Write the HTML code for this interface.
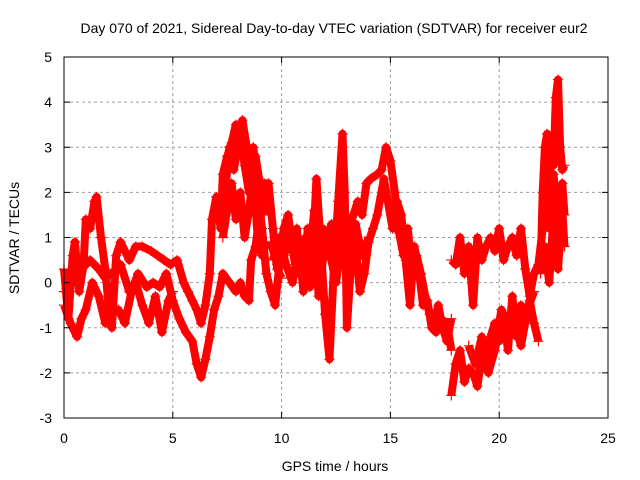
<!DOCTYPE html>
<html><head><meta charset="utf-8"><style>
body{margin:0;background:#fff;}
svg{display:block;font-family:"Liberation Sans",Arial,sans-serif;}
</style></head><body>
<svg id="chart" width="640" height="480" viewBox="0 0 640 480" xmlns="http://www.w3.org/2000/svg">
<text x="334" y="33" font-size="14" text-anchor="middle">Day 070 of 2021, Sidereal Day-to-day VTEC variation (SDTVAR) for receiver eur2</text>
<g id="grid"></g>
<g id="series"></g>
<rect x="64" y="57" width="544" height="361" fill="none" stroke="#000" stroke-width="1"/>
<g id="ticks"></g>
<text x="335" y="471" font-size="14" text-anchor="middle">GPS time / hours</text>
<text transform="translate(19,238) rotate(-90)" font-size="14" text-anchor="middle">SDTVAR / TECUs</text>
</svg>
<script>
const xTicks=[0,5,10,15,20,25];
const yTicks=[-3,-2,-1,0,1,2,3,4,5];
const track1T=[0,0.2,0.4,0.5,0.7,0.9,1.0,1.2,1.4,1.5,1.7,1.9,2.1,2.2,2.4,2.6,2.8,3.0,3.3,3.6,4.0,4.3,4.6,4.9,5.2,5.5,5.7,5.9,6.1,6.3,6.5,6.7,6.8,7.0,7.2,7.3,7.5,7.7,7.9,8.1,8.3,8.5,8.7,8.9,9.1,9.3,9.5,9.7,9.9,10.1,10.3,10.5,10.7,10.9,11.1,11.3,11.5,11.7,11.9,12.1,12.3,12.5,12.7,12.9,13.1,13.3,13.5,13.7,13.9,14.1,14.4,14.6,14.8,15.0,15.2,15.4,15.6,15.8,16.0,16.2,16.4,16.6,16.8,17.0,17.2,17.4,17.6,17.8];
const track1V=[0.3,-0.8,0.6,0.9,-0.2,0.4,1.4,1.2,1.8,1.9,1.0,0.3,-0.8,-1.0,0.6,0.9,0.7,0.5,0.8,0.8,0.7,0.6,0.5,0.4,0.5,0.0,-0.2,-0.4,-0.6,-0.9,-0.5,0.2,1.4,1.9,1.2,2.4,2.8,3.1,3.5,3.4,2.6,2.0,3.0,2.0,1.2,0.2,-0.2,-0.5,0.4,1.2,1.5,0.8,1.2,0.3,1.0,0.6,1.6,-0.3,0.5,1.0,1.3,0.6,1.4,0.9,1.2,1.5,1.8,1.5,2.2,2.3,2.4,2.5,3.0,2.7,2.0,1.1,0.6,1.2,0.2,0.6,0.2,-0.3,-0.7,-0.9,-0.5,-1.0,-1.3,-0.8];
const track2T=[0,0.3,0.6,0.8,1.0,1.3,1.6,1.9,2.2,2.5,2.8,3.1,3.4,3.8,4.1,4.4,4.7,5.0,5.3,5.6,5.9,6.1,6.3,6.5,6.7,6.9,7.1,7.3,7.6,7.9,8.1,8.3,8.5,8.6,8.8,9.0,9.2,9.4,9.6,9.8,10.0];
const track2V=[-0.5,-0.9,-1.2,-0.8,-0.6,0.0,-0.3,-0.9,-0.7,-0.6,-0.9,-0.2,0.2,-0.1,0.0,-0.1,0.2,-0.4,-0.8,-1.1,-1.3,-1.8,-2.1,-1.7,-1.2,-0.6,-0.3,0.2,0.0,-0.2,0.0,-0.3,-0.4,0.5,0.8,1.5,2.2,2.2,1.2,0.3,0.1];
const track3T=[0,0.4,0.8,1.2,1.6,1.9,2.2,2.6,3.0,3.3,3.6,3.9,4.2,4.5,4.8,5.0];
const track3V=[-0.2,0.0,0.3,0.5,0.3,0.1,0.2,0.4,-0.2,0.0,-0.5,-0.9,-0.3,-1.1,-0.4,-0.2];
const track4T=[7.4,7.6,7.8,8.0,8.2,8.4,8.6,8.8,9.0,9.2];
const track4V=[2.0,3.0,2.5,3.0,3.6,3.0,2.4,2.8,2.2,1.5];
const track5T=[9.6,9.9,10.2,10.5,10.8,11.0,11.2,11.4,11.6,11.8,12.0,12.2,12.4,12.6,12.8,12.9,13.0,13.2,13.4,13.6,13.8,14.0,14.2,14.4,14.7,15.1,15.3,15.5,15.7,15.9,16.1,16.3,16.5,16.7,16.9,17.1,17.3,17.6,17.8];
const track5V=[0.5,1.0,0.4,0.0,0.8,-0.2,1.2,0.3,2.3,0.8,-0.7,-1.7,0.3,1.8,3.3,2.0,-1.0,0.5,0.8,-0.2,0.2,0.9,1.2,1.5,2.3,1.2,1.8,1.5,0.5,-0.5,0.8,0.3,-0.5,-0.4,-1.0,-1.1,-0.8,-0.9,-1.5];
const track6T=[17.8,18.0,18.2,18.4,18.6,18.8,19.0,19.2,19.4,19.6,19.8,20.0,20.2,20.4,20.6,20.8,21.0,21.2,21.4,21.6,21.8];
const track6V=[-2.5,-1.8,-1.5,-2.2,-1.9,-2.0,-2.3,-1.6,-1.9,-1.2,-0.9,-1.3,-0.7,-1.5,-0.3,-1.2,-0.5,-0.8,-0.4,-0.9,-1.3];
const track7T=[17.8,18.0,18.2,18.4,18.6,18.8,19.0,19.2,19.4,19.6,19.8,20.0,20.2,20.4,20.6,20.8,21.0,21.2,21.4,21.6,21.8,22.0];
const track7V=[0.5,0.4,1.0,0.2,0.8,-0.5,1.0,0.5,0.8,1.0,0.7,1.2,0.5,0.8,1.0,0.6,1.2,0.3,-0.3,0.2,0.4,1.2];
const track8T=[21.9,22.0,22.1,22.2,22.3,22.4,22.5,22.6,22.7,22.8,22.9,23.0];
const track8V=[0.2,2.0,3.0,3.3,2.0,3.0,2.6,4.1,4.5,3.0,2.5,2.6];
const track9T=[21.9,22.1,22.3,22.5,22.7,22.9,23.0];
const track9V=[0.3,0.8,0.0,1.5,0.3,1.6,0.8];
const track10T=[7.3,7.5,7.7,7.9,8.1,8.3,8.5,8.7,8.9,9.1,9.3];
const track10V=[1.0,1.6,2.2,1.4,2.0,1.0,1.6,2.4,1.0,0.6,0.9];
const track11T=[9.5,9.8,10.1,10.4,10.7,11.0,11.3,11.6,11.9,12.2,12.5,12.8,13.1,13.4,13.7,14.0];
const track11V=[0.9,0.4,0.6,1.0,0.2,0.7,-0.1,0.4,1.2,0.7,0.0,1.0,0.3,1.3,0.6,1.0];
const track12T=[18.6,18.9,19.2,19.5,19.8,20.1,20.4,20.7,21.0,21.3,21.6];
const track12V=[-1.4,-1.8,-1.2,-2.0,-1.5,-0.6,-1.0,-0.9,-1.4,-0.6,-0.2];
const track13T=[22.1,22.3,22.5,22.7,22.9,23.0];
const track13V=[2.4,1.2,2.4,1.0,2.2,1.5];
const tracksT=[track1T,track2T,track3T,track4T,track5T,track6T,track7T,track8T,track9T,track10T,track11T,track12T,track13T];
const tracksV=[track1V,track2V,track3V,track4V,track5V,track6V,track7V,track8V,track9V,track10V,track11V,track12V,track13V];

const NS='http://www.w3.org/2000/svg';
const X0=64,X1=608,Y0=418,Y1=57;
function sx(h){return X0+(h-0)/(25-0)*(X1-X0);}
function sy(v){return Y0-(v-(-3))/(5-(-3))*(Y0-Y1);}
const grid=document.getElementById('grid'),ticks=document.getElementById('ticks'),series=document.getElementById('series');
function mk(tag,attrs,parent){const e=document.createElementNS(NS,tag);for(const k in attrs)e.setAttribute(k,attrs[k]);parent.appendChild(e);return e;}
xTicks.forEach(t=>{
  const x=sx(t);
  if(t>0&&t<25){const g=mk('line',{x1:x,x2:x,y1:Y1,y2:Y0,stroke:'#a0a0a0','stroke-dasharray':'3,3'},grid);
  
  }
  const a=mk('line',{x1:x,x2:x,y1:Y0,y2:Y0-6,stroke:'#000'},ticks);
  
  
  const b=mk('line',{x1:x,x2:x,y1:Y1,y2:Y1+6,stroke:'#000'},ticks);
  
  
  const l=mk('text',{x:x,y:443,'font-size':14,'text-anchor':'middle'},ticks);l.textContent=t;
  
  
});
yTicks.forEach(t=>{
  const y=sy(t);
  if(t>-3&&t<5){const g=mk('line',{x1:X0,x2:X1,y1:y,y2:y,stroke:'#a0a0a0','stroke-dasharray':'3,3'},grid);
  
  }
  const a=mk('line',{x1:X0,x2:X0+6,y1:y,y2:y,stroke:'#000'},ticks);
  
  
  const b=mk('line',{x1:X1,x2:X1-6,y1:y,y2:y,stroke:'#000'},ticks);
  
  
  const l=mk('text',{x:52,y:y+5,'font-size':14,'text-anchor':'end'},ticks);l.textContent=t;
  
  
});
tracksT.forEach((T,i)=>{
  const V=tracksV[i];
  const pts=T.map((t,j)=>sx(t).toFixed(1)+','+sy(V[j]).toFixed(1)).join(' ');
  const pl=mk('polyline',{points:pts,fill:'none',stroke:'#f00','stroke-width':8,'stroke-linejoin':'round'},series);
  
  
  T.forEach((t,j)=>{
    const x=sx(t),y=sy(V[j]);
    const p=mk('path',{d:`M${x-5},${y}H${x+5}M${x},${y-5}V${y+5}`,stroke:'#f00','stroke-width':1.2},series);
    
    
  });
});
</script>
</body></html>
